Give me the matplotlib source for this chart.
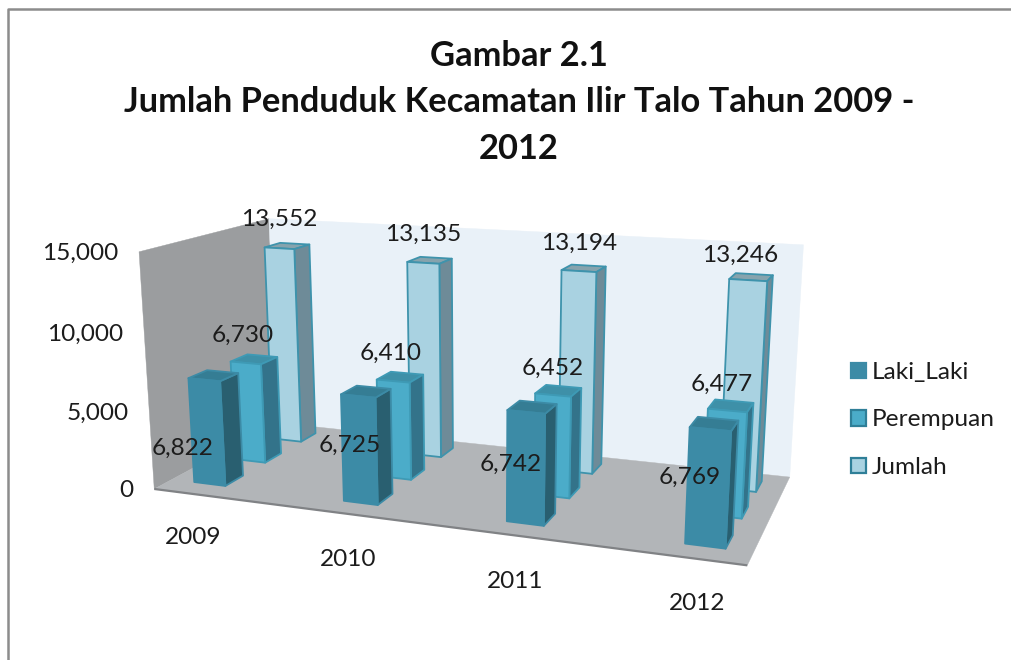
import numpy as np
import matplotlib
matplotlib.use("Agg")
import matplotlib.pyplot as plt
from matplotlib.patches import Patch
from matplotlib.lines import Line2D
from mpl_toolkits.mplot3d.art3d import Poly3DCollection

# ---- data ----
years = ["2009", "2010", "2011", "2012"]
laki_laki = [6822, 6725, 6742, 6769]
perempuan = [6730, 6410, 6452, 6477]
jumlah = [13552, 13135, 13194, 13246]
series_names = ["Laki_Laki", "Perempuan", "Jumlah"]
z_ticks = [0, 5000, 10000, 15000]

plt.rcParams["font.family"] = ["Lato", "DejaVu Sans"]
TXT = "#1c1c1c"
W, HT = 1011, 660

# ---- styles ----
series = [laki_laki, perempuan, jumlah]
front = ["#3C8BA6", "#4BACC9", "#A9D2E1"]
side = ["#295F70", "#33738A", "#6E8B98"]
top = ["#357D94", "#3E90A8", "#86A3AD"]
edge = ["#3C8BA6", "#3E9AB5", "#3E93AC"]
bw, bd = 0.215, 0.43
X0, X1, Y0, Y1, ZT = -0.27, 3.25, -0.6, 2.52, 15000.0

# ---- camera calibration: scene point -> image pixel ----
calib = [
    ((X0, Y0, 0), (156, 488)), ((X1, Y0, 0), (747, 563)),
    ((X0, Y1, 0), (280, 422)), ((X1, Y1, 0), (789, 475)),
    ((X0, Y0, ZT), (142, 250)), ((X0, Y1, ZT), (267, 220)),
    ((X1, Y1, ZT), (803, 245)),
    ((0 - bw / 2, -bd / 2, 0), (190, 483)), ((1 - bw / 2, -bd / 2, 0), (342, 502)),
    ((2 - bw / 2, -bd / 2, 0), (507, 523)), ((3 - bw / 2, -bd / 2, 0), (685, 544)),
    ((0 - bw / 2, 2 - bd / 2, jumlah[0]), (262, 245)), ((1 - bw / 2, 2 - bd / 2, jumlah[1]), (407, 262)),
    ((2 - bw / 2, 2 - bd / 2, jumlah[2]), (562, 270)), ((3 - bw / 2, 2 - bd / 2, jumlah[3]), (730, 280)),
]
A, b = [], []
for (x, y, z), (u, v) in calib:
    z = z / 1e4
    A.append([x, y, z, 1, 0, 0, 0, 0, -u * x, -u * y, -u * z]); b.append(u)
    A.append([0, 0, 0, 0, x, y, z, 1, -v * x, -v * y, -v * z]); b.append(v)
p = np.linalg.lstsq(np.array(A, float), np.array(b, float), rcond=None)[0]
H = np.array([[p[0], p[1], p[2] / 1e4, p[3]],
              [p[4], p[5], p[6] / 1e4, p[7]],
              [p[8], p[9], p[10] / 1e4, 1.0]])


def to_px(x, y, z):
    q = H @ np.array([x, y, z, 1.0])
    return q[0] / q[2], q[1] / q[2]


fig = plt.figure(figsize=(W / 100, HT / 100), dpi=100, facecolor="white")
ax = fig.add_axes([0, 0, 1, 1], projection="3d", computed_zorder=False)
ax.apply_aspect = lambda position=None: None
ax.set_position([0, 0, 1, 1])
ax.set_axis_off()
ax.patch.set_visible(False)


def custom_proj():
    Wp, Hp = fig.get_size_inches() * fig.dpi
    flip = np.array([[1, 0, 0], [0, -1, Hp], [0, 0, 1.0]])
    inv = ax.transData.inverted().get_affine().get_matrix()
    P = inv @ flip @ H
    return np.array([P[0], P[1], [0, 1, 0, 0], P[2]])


ax.get_proj = custom_proj


def put(px, py, s, **kw):
    fig.text(px / W, 1 - py / HT, s, **kw)


clear = (0, 0, 0, 0)
# ---- walls ----
walls = [
    ([(X0, Y0, 0), (X0, Y1, 0), (X0, Y1, ZT), (X0, Y0, ZT)], "#9B9D9F"),
    ([(X0, Y1, 0), (X1, Y1, 0), (X1, Y1, ZT), (X0, Y1, ZT)], "#E9F1F8"),
    ([(X0, Y0, 0), (X1, Y0, 0), (X1, Y1, 0), (X0, Y1, 0)], "#B2B5B8"),
]
for verts, col in walls:
    ax.add_collection3d(Poly3DCollection([verts], facecolors=col, edgecolors=col, linewidths=0.3, zorder=1),
                        autolim=False)
edge_front = Poly3DCollection([[(X0, Y0, 0), (X1, Y0, 0), (X1, Y0, 0)]],
                              facecolors=[clear], edgecolors="#808285", linewidths=1.6, zorder=1.5)
ax.add_collection3d(edge_front, autolim=False)

# ---- bars, back row first ----
for row in [2, 1, 0]:
    for i, val in enumerate(series[row]):
        faces = [clear, top[row], front[row], clear, clear, side[row]]
        edges = [clear, edge[row], edge[row], clear, clear, edge[row]]
        c = ax.bar3d(i - bw / 2, row - bd / 2, 0, bw, bd, val, color=faces,
                     edgecolors=edges, linewidths=1.3, shade=False)
        c.set_zorder(5 + (2 - row))

# ---- value labels (text placement) ----
value_label_px = [
    [(183, 448), (350, 445), (511, 464), (690, 477)],
    [(243, 335), (391, 353), (553, 368), (722, 384)],
    [(279, 219), (423, 234), (579, 243), (740, 255)],
]
for row in range(3):
    for i, val in enumerate(series[row]):
        px, py = value_label_px[row][i]
        put(px, py, f"{val:,}", ha="center", va="center", fontsize=17.6, color=TXT, zorder=20)

# ---- axis labels ----
for zt in z_ticks:
    px, py = to_px(X0, Y0, zt)
    put(px - 20.5, py + 2, f"{zt:,}", ha="right", va="center", fontsize=17.6, color=TXT, zorder=20)
year_label_px = [(193, 538), (348, 560), (515, 581), (697, 603)]
for yr, (px, py) in zip(years, year_label_px):
    put(px, py, yr, ha="center", va="center", fontsize=17.6, color=TXT, zorder=20)

# ---- title ----
put(519, 102.5, "Gambar 2.1\nJumlah Penduduk Kecamatan Ilir Talo Tahun 2009 -\n2012",
    ha="center", va="center", fontsize=24.8, fontweight="bold", color="#111111", linespacing=1.54)

# ---- legend ----
handles = [Patch(facecolor=front[k], edgecolor=edge[k] if k == 0 else "#2F7F98", linewidth=1.6) for k in range(3)]
fig.legend(handles, series_names, loc="center left", bbox_to_anchor=(851 / W, 1 - 420 / HT),
           frameon=False, fontsize=17.6, labelcolor=TXT, handlelength=0.6, handleheight=0.6,
           handletextpad=0.24, labelspacing=1.08, borderpad=0, borderaxespad=0)

# ---- outer frame ----
fig.add_artist(Line2D([8 / W, 8 / W, 1], [0, 1 - 9 / HT, 1 - 9 / HT],
                      color="#8C8C8C", linewidth=1.8, transform=fig.transFigure))

fig.savefig("out.png", dpi=100)
